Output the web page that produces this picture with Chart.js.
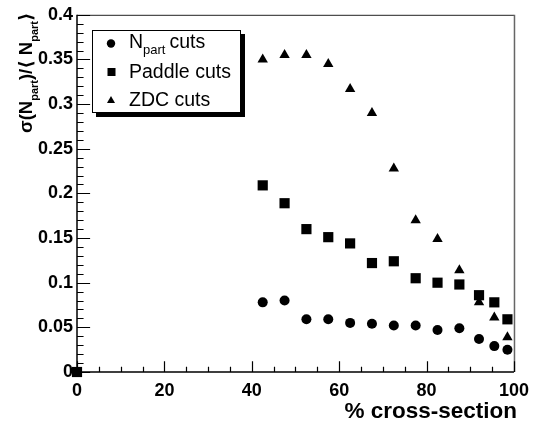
<!DOCTYPE html>
<html>
<head>
<meta charset="utf-8">
<script src="https://cdn.jsdelivr.net/npm/chart.js@4/dist/chart.umd.min.js"></script>
<style>
  html, body { margin: 0; padding: 0; background: #ffffff; }
  canvas { display: block; }
</style>
</head>
<body>
<canvas id="chart" width="537" height="424"></canvas>
<script>
// Centrality bins (% cross-section) and relative width of the N_part distribution
const centrality = [42.5, 47.5, 52.5, 57.5, 62.5, 67.5, 72.5, 77.5, 82.5, 87.5, 92, 95.5, 98.5];
const npartCuts  = [0.078, 0.080, 0.059, 0.059, 0.055, 0.054, 0.052, 0.052, 0.047, 0.049, 0.037, 0.029, 0.025];
const paddleCentrality = [0, 42.5, 47.5, 52.5, 57.5, 62.5, 67.5, 72.5, 77.5, 82.5, 87.5, 92, 95.5, 98.5];
const paddleCuts = [0, 0.209, 0.189, 0.160, 0.151, 0.144, 0.122, 0.124, 0.105, 0.100, 0.098, 0.086, 0.078, 0.059];
const zdcCuts    = [0.350, 0.355, 0.355, 0.345, 0.317, 0.290, 0.228, 0.170, 0.149, 0.114, 0.078, 0.061, 0.039];

const xTickValues = [0, 20, 40, 60, 80, 100];
const xTickLabels = ['0', '20', '40', '60', '80', '100'];
const yTickValues = [0, 0.05, 0.1, 0.15, 0.2, 0.25, 0.3, 0.35, 0.4];
const yTickLabels = ['0', '0.05', '0.1', '0.15', '0.2', '0.25', '0.3', '0.35', '0.4'];

const seriesNames = ['Paddle cuts', 'N_part cuts', 'ZDC cuts'];

const FONT = "'Liberation Sans', Arial, 'DejaVu Sans', sans-serif";

function toPoints(xs, ys) {
  return ys.map((y, i) => ({ x: xs[i], y: y }));
}

// Draws a run of text pieces, some of them as subscripts, starting at (x, y)
function drawRich(ctx, pieces, x, y, size, weight, subScale) {
  let cx = x;
  for (const p of pieces) {
    const s = p.sub ? Math.round(size * subScale) : size;
    ctx.font = `${weight} ${s}px ${FONT}`;
    ctx.fillText(p.t, cx, y + (p.sub ? size * 0.33 : 0));
    cx += ctx.measureText(p.t).width + (p.gap || 0);
  }
  return cx;
}

// Frame, inward ticks, axis titles and the boxed legend with its shadow
const decorations = {
  id: 'decorations',
  beforeDatasetsDraw(chart) {
    const { ctx, chartArea: a, scales } = chart;
    const xs = scales.x, ys = scales.y;
    ctx.save();
    // top and right frame
    ctx.lineWidth = 1;
    ctx.strokeStyle = '#222';
    ctx.beginPath();
    ctx.moveTo(a.left, a.top + 0.5);
    ctx.lineTo(a.right, a.top + 0.5);
    ctx.stroke();
    ctx.strokeStyle = '#666';
    ctx.lineWidth = 1.5;
    ctx.beginPath();
    ctx.moveTo(a.right + 0.5, a.top);
    ctx.lineTo(a.right + 0.5, a.bottom);
    ctx.stroke();

    // axes
    ctx.strokeStyle = '#000';
    ctx.lineWidth = 1.5;
    ctx.beginPath();
    ctx.moveTo(a.left, a.top);
    ctx.lineTo(a.left, a.bottom);
    ctx.lineTo(a.right, a.bottom);
    ctx.stroke();

    // y ticks (major every 0.05, minor every 0.01), pointing inward
    const yMajor = 0.03 * (a.right - a.left);
    ctx.lineWidth = 1.2;
    ctx.beginPath();
    for (let k = 0; k <= 40; k++) {
      const v = k / 100;
      const py = Math.round(ys.getPixelForValue(v)) + 0.5;
      const len = (k % 5 === 0) ? yMajor : yMajor / 2;
      ctx.moveTo(a.left, py);
      ctx.lineTo(a.left + len, py);
    }
    // x ticks (major every 20, minor every 5)
    const xMajor = 0.03 * (a.bottom - a.top);
    for (let k = 0; k <= 20; k++) {
      const v = k * 5;
      const px = Math.round(xs.getPixelForValue(v)) + 0.5;
      const len = (k % 4 === 0) ? xMajor : xMajor / 2;
      ctx.moveTo(px, a.bottom);
      ctx.lineTo(px, a.bottom - len);
    }
    ctx.stroke();

    // x title, right aligned at the end of the axis
    ctx.fillStyle = '#000';
    ctx.textAlign = 'right';
    ctx.textBaseline = 'alphabetic';
    ctx.font = `bold 22.5px ${FONT}`;
    ctx.fillText('% cross-section', a.right + 3, 418);

    // y title, rotated, ending near the top of the axis
    ctx.save();
    ctx.translate(32, 133);
    ctx.rotate(-Math.PI / 2);
    ctx.textAlign = 'left';
    drawRich(ctx, [
      { t: 'σ(' }, { t: 'N' }, { t: 'part', sub: true }, { t: ')/' },
      { t: '⟨ ' }, { t: 'N' }, { t: 'part', sub: true }, { t: '⟩' }
    ], 0, 0, 18.5, 'bold', 0.62);
    ctx.restore();
    ctx.restore();
  },
  afterDraw(chart) {
    const { ctx } = chart;
    ctx.save();
    const bx = 92, by = 30, bw = 149, bh = 83;
    // shadow
    ctx.fillStyle = '#000';
    ctx.fillRect(bx + bw, by + 4, 4, bh);
    ctx.fillRect(bx + 4, by + bh, bw, 4);
    // box
    ctx.fillStyle = '#fff';
    ctx.fillRect(bx, by, bw, bh);
    ctx.strokeStyle = '#000';
    ctx.lineWidth = 1;
    ctx.strokeRect(bx + 0.5, by + 0.5, bw - 1, bh - 1);

    const mx = 111;
    ctx.fillStyle = '#000';
    // circle
    ctx.beginPath();
    ctx.arc(mx, 43.5, 4.2, 0, Math.PI * 2);
    ctx.fill();
    // square
    ctx.fillRect(mx - 3.5, 68, 8, 8);
    // triangle
    ctx.beginPath();
    ctx.moveTo(mx, 96);
    ctx.lineTo(mx + 4, 103);
    ctx.lineTo(mx - 4, 103);
    ctx.closePath();
    ctx.fill();

    ctx.textAlign = 'left';
    ctx.textBaseline = 'alphabetic';
    const tx = 129;
    drawRich(ctx, [{ t: 'N' }, { t: 'part', sub: true, gap: 4 }, { t: 'cuts' }], tx, 48, 19.5, 'normal', 0.68);
    ctx.font = `normal 19.5px ${FONT}`;
    ctx.fillText(seriesNames[0], tx, 78);
    ctx.fillText(seriesNames[2], tx, 106);
    ctx.restore();
  }
};

new Chart(document.getElementById('chart'), {
  type: 'scatter',
  data: {
    datasets: [
      {
        label: seriesNames[0],
        data: toPoints(paddleCentrality, paddleCuts),
        pointStyle: 'rect',
        pointRadius: 7.2,
        backgroundColor: '#000',
        borderColor: '#000',
        borderWidth: 0,
        clip: false
      },
      {
        label: seriesNames[1],
        data: toPoints(centrality, npartCuts),
        pointStyle: 'circle',
        pointRadius: 5,
        backgroundColor: '#000',
        borderColor: '#000',
        borderWidth: 0,
        clip: false
      },
      {
        label: seriesNames[2],
        data: toPoints(centrality, zdcCuts),
        pointStyle: 'triangle',
        pointRadius: 6,
        backgroundColor: '#000',
        borderColor: '#000',
        borderWidth: 0,
        clip: false
      }
    ]
  },
  options: {
    responsive: false,
    animation: false,
    events: [],
    layout: { padding: { top: 14, right: 18, left: 0, bottom: 0 } },
    plugins: {
      legend: { display: false },
      tooltip: { enabled: false },
      title: { display: false }
    },
    scales: {
      x: {
        type: 'linear',
        min: 0,
        max: 100,
        border: { display: false },
        grid: { display: false, drawTicks: false },
        afterBuildTicks(scale) { scale.ticks = xTickValues.map(v => ({ value: v })); },
        afterFit(scale) { scale.height = 52; },
        ticks: {
          padding: 8,
          maxRotation: 0,
          color: '#000',
          font: { family: FONT, size: 18, weight: 'bold' },
          callback: (value, index) => xTickLabels[index]
        }
      },
      y: {
        type: 'linear',
        min: 0,
        max: 0.4,
        border: { display: false },
        grid: { display: false, drawTicks: false },
        afterBuildTicks(scale) { scale.ticks = yTickValues.map(v => ({ value: v })); },
        afterFit(scale) { scale.width = 77; },
        ticks: {
          padding: 4,
          color: '#000',
          font: { family: FONT, size: 18, weight: 'bold' },
          callback: (value, index) => yTickLabels[index]
        }
      }
    }
  },
  plugins: [decorations]
});
</script>
</body>
</html>
